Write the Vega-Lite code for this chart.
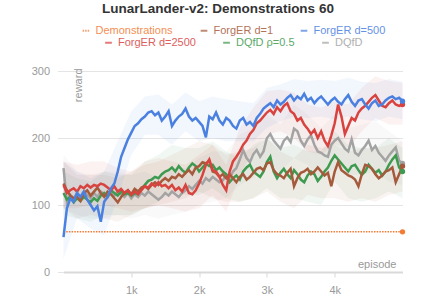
{
  "$schema": "https://vega.github.io/schema/vega-lite/v6.json",
  "width": 339,
  "height": 201,
  "autosize": "none",
  "padding": {"left": 63.5, "top": 71, "right": 33.5, "bottom": 36},
  "title": {"text": "LunarLander-v2: Demonstrations 60", "fontSize": 13.5, "fontWeight": "bold", "color": "#333333", "anchor": "middle", "offset": 10, "dx": -15},
  "config": {
    "font": "Liberation Sans",
    "view": {"stroke": null},
    "legend": {"layout": {"top": {"anchor": "middle", "direction": "vertical", "center": true, "margin": 1}}},
    "axisY": {"domain": false, "grid": true, "gridColor": "#e4e4e4", "tickColor": "#e4e4e4", "tickSize": 6, "labelColor": "#9a9a9a", "labelFontSize": 11, "labelPadding": 8, "titleAngle": 270, "titleX": 17.5, "titleY": -3, "titleAlign": "right", "titleBaseline": "alphabetic", "titleFontWeight": "normal", "titleFontSize": 11, "titleColor": "#9a9a9a"},
    "axisX": {"domain": true, "domainColor": "#d9d9d9", "domainWidth": 2, "grid": false, "tickColor": "#d9d9d9", "tickSize": 5, "labelColor": "#9a9a9a", "labelFontSize": 11, "labelPadding": 7, "titleX": 332.5, "titleY": -5, "titleAlign": "right", "titleBaseline": "alphabetic", "titleFontWeight": "normal", "titleFontSize": 11, "titleColor": "#9a9a9a"}
  },
  "datasets": {
    "runs": [
      {"x":0,"b":52,"r":130,"k":155,"g":118,"n":132},
      {"x":50,"b":95,"r":118,"k":105,"g":108,"n":122},
      {"x":100,"b":110,"r":122,"k":115,"g":112,"n":114},
      {"x":150,"b":105,"r":125,"k":110,"g":104,"n":110},
      {"x":200,"b":118,"r":120,"k":118,"g":110,"n":112},
      {"x":250,"b":112,"r":128,"k":112,"g":106,"n":106},
      {"x":300,"b":120,"r":125,"k":120,"g":112,"n":118},
      {"x":350,"b":108,"r":130,"k":115,"g":108,"n":122},
      {"x":400,"b":100,"r":126,"k":110,"g":104,"n":114},
      {"x":450,"b":92,"r":130,"k":118,"g":110,"n":120},
      {"x":500,"b":98,"r":128,"k":112,"g":106,"n":126},
      {"x":550,"b":75,"r":132,"k":120,"g":114,"n":118},
      {"x":600,"b":105,"r":130,"k":116,"g":118,"n":112},
      {"x":650,"b":112,"r":126,"k":112,"g":112,"n":120},
      {"x":700,"b":125,"r":122,"k":118,"g":122,"n":116},
      {"x":750,"b":132,"r":128,"k":114,"g":118,"n":110},
      {"x":800,"b":150,"r":120,"k":120,"g":114,"n":104},
      {"x":850,"b":172,"r":124,"k":116,"g":120,"n":112},
      {"x":900,"b":185,"r":118,"k":112,"g":116,"n":118},
      {"x":950,"b":198,"r":122,"k":118,"g":118,"n":122},
      {"x":1000,"b":208,"r":115,"k":110,"g":114,"n":116},
      {"x":1050,"b":218,"r":120,"k":116,"g":118,"n":124},
      {"x":1100,"b":222,"r":116,"k":112,"g":116,"n":120},
      {"x":1150,"b":228,"r":122,"k":118,"g":124,"n":126},
      {"x":1200,"b":232,"r":128,"k":114,"g":130,"n":128},
      {"x":1250,"b":238,"r":126,"k":120,"g":136,"n":124},
      {"x":1300,"b":240,"r":132,"k":116,"g":138,"n":130},
      {"x":1350,"b":234,"r":128,"k":112,"g":142,"n":134},
      {"x":1400,"b":238,"r":134,"k":108,"g":140,"n":130},
      {"x":1450,"b":226,"r":128,"k":112,"g":146,"n":136},
      {"x":1500,"b":232,"r":130,"k":118,"g":150,"n":140},
      {"x":1550,"b":240,"r":125,"k":114,"g":152,"n":136},
      {"x":1600,"b":218,"r":130,"k":120,"g":156,"n":142},
      {"x":1650,"b":226,"r":122,"k":116,"g":150,"n":140},
      {"x":1700,"b":232,"r":126,"k":112,"g":158,"n":146},
      {"x":1750,"b":236,"r":120,"k":118,"g":152,"n":142},
      {"x":1800,"b":244,"r":130,"k":122,"g":148,"n":148},
      {"x":1850,"b":232,"r":118,"k":128,"g":156,"n":152},
      {"x":1900,"b":226,"r":116,"k":124,"g":162,"n":146},
      {"x":1950,"b":230,"r":122,"k":130,"g":158,"n":156},
      {"x":2000,"b":224,"r":132,"k":136,"g":150,"n":158},
      {"x":2050,"b":218,"r":145,"k":132,"g":156,"n":164},
      {"x":2100,"b":201,"r":160,"k":140,"g":162,"n":162},
      {"x":2150,"b":232,"r":168,"k":136,"g":158,"n":166},
      {"x":2200,"b":228,"r":152,"k":142,"g":160,"n":150},
      {"x":2250,"b":238,"r":150,"k":138,"g":152,"n":148},
      {"x":2300,"b":226,"r":142,"k":134,"g":156,"n":142},
      {"x":2350,"b":220,"r":130,"k":137,"g":150,"n":146},
      {"x":2400,"b":230,"r":122,"k":145,"g":146,"n":140},
      {"x":2450,"b":226,"r":150,"k":140,"g":134,"n":146},
      {"x":2500,"b":218,"r":165,"k":150,"g":140,"n":140},
      {"x":2550,"b":214,"r":172,"k":155,"g":144,"n":134},
      {"x":2600,"b":226,"r":180,"k":168,"g":138,"n":142},
      {"x":2650,"b":230,"r":190,"k":182,"g":150,"n":146},
      {"x":2700,"b":220,"r":196,"k":170,"g":156,"n":138},
      {"x":2750,"b":224,"r":206,"k":164,"g":160,"n":142},
      {"x":2800,"b":218,"r":212,"k":176,"g":150,"n":148},
      {"x":2850,"b":230,"r":222,"k":182,"g":146,"n":154},
      {"x":2900,"b":236,"r":226,"k":172,"g":142,"n":156},
      {"x":2950,"b":244,"r":232,"k":180,"g":150,"n":152},
      {"x":3000,"b":248,"r":238,"k":200,"g":164,"n":162},
      {"x":3050,"b":252,"r":242,"k":206,"g":172,"n":164},
      {"x":3100,"b":246,"r":236,"k":196,"g":150,"n":152},
      {"x":3150,"b":256,"r":246,"k":190,"g":140,"n":146},
      {"x":3200,"b":250,"r":240,"k":184,"g":148,"n":144},
      {"x":3250,"b":254,"r":248,"k":196,"g":154,"n":140},
      {"x":3300,"b":260,"r":252,"k":201,"g":146,"n":148},
      {"x":3350,"b":264,"r":240,"k":194,"g":140,"n":154},
      {"x":3400,"b":256,"r":236,"k":214,"g":152,"n":128},
      {"x":3450,"b":262,"r":226,"k":210,"g":146,"n":140},
      {"x":3500,"b":258,"r":230,"k":196,"g":138,"n":148},
      {"x":3550,"b":266,"r":220,"k":188,"g":134,"n":150},
      {"x":3600,"b":256,"r":214,"k":198,"g":144,"n":154},
      {"x":3650,"b":260,"r":206,"k":204,"g":150,"n":146},
      {"x":3700,"b":252,"r":212,"k":190,"g":146,"n":150},
      {"x":3750,"b":258,"r":200,"k":180,"g":136,"n":156},
      {"x":3800,"b":262,"r":210,"k":178,"g":142,"n":150},
      {"x":3850,"b":256,"r":196,"k":174,"g":150,"n":144},
      {"x":3900,"b":250,"r":188,"k":172,"g":156,"n":148},
      {"x":3950,"b":256,"r":204,"k":190,"g":166,"n":128},
      {"x":4000,"b":260,"r":222,"k":196,"g":174,"n":150},
      {"x":4050,"b":254,"r":250,"k":200,"g":168,"n":164},
      {"x":4100,"b":250,"r":232,"k":192,"g":162,"n":152},
      {"x":4150,"b":258,"r":206,"k":184,"g":156,"n":148},
      {"x":4200,"b":264,"r":218,"k":180,"g":150,"n":144},
      {"x":4250,"b":254,"r":230,"k":198,"g":158,"n":142},
      {"x":4300,"b":248,"r":226,"k":178,"g":160,"n":138},
      {"x":4350,"b":256,"r":238,"k":174,"g":152,"n":128},
      {"x":4400,"b":258,"r":244,"k":182,"g":145,"n":146},
      {"x":4450,"b":250,"r":248,"k":188,"g":150,"n":160},
      {"x":4500,"b":244,"r":254,"k":196,"g":160,"n":158},
      {"x":4550,"b":252,"r":260,"k":182,"g":154,"n":154},
      {"x":4600,"b":256,"r":264,"k":188,"g":148,"n":146},
      {"x":4650,"b":248,"r":256,"k":178,"g":152,"n":140},
      {"x":4700,"b":250,"r":248,"k":172,"g":144,"n":144},
      {"x":4750,"b":256,"r":246,"k":166,"g":150,"n":150},
      {"x":4800,"b":260,"r":252,"k":174,"g":160,"n":152},
      {"x":4850,"b":262,"r":256,"k":180,"g":168,"n":156},
      {"x":4900,"b":258,"r":250,"k":186,"g":174,"n":134},
      {"x":4950,"b":260,"r":248,"k":166,"g":156,"n":146},
      {"x":5000,"b":255,"r":250,"k":162,"g":150,"n":158}
    ],
    "bands": [
      {"x":0,"b0":20,"b1":165,"r0":95,"r1":165,"k0":95,"k1":175,"g0":85,"g1":150,"n0":95,"n1":165},
      {"x":200,"b0":80,"b1":150,"r0":95,"r1":160,"k0":85,"k1":150,"g0":80,"g1":140,"n0":80,"n1":145},
      {"x":400,"b0":65,"b1":140,"r0":100,"r1":165,"k0":80,"k1":145,"g0":75,"g1":135,"n0":85,"n1":145},
      {"x":600,"b0":55,"b1":150,"r0":100,"r1":165,"k0":80,"k1":150,"g0":85,"g1":150,"n0":80,"n1":145},
      {"x":800,"b0":110,"b1":195,"r0":95,"r1":155,"k0":85,"k1":150,"g0":85,"g1":145,"n0":75,"n1":140},
      {"x":1000,"b0":175,"b1":240,"r0":90,"r1":150,"k0":80,"k1":145,"g0":85,"g1":145,"n0":85,"n1":150},
      {"x":1200,"b0":205,"b1":262,"r0":95,"r1":165,"k0":85,"k1":150,"g0":95,"g1":165,"n0":95,"n1":160},
      {"x":1400,"b0":205,"b1":265,"r0":100,"r1":170,"k0":80,"k1":140,"g0":105,"g1":175,"n0":100,"n1":165},
      {"x":1600,"b0":190,"b1":250,"r0":95,"r1":165,"k0":85,"k1":155,"g0":120,"g1":190,"n0":105,"n1":175},
      {"x":1800,"b0":210,"b1":268,"r0":90,"r1":160,"k0":90,"k1":155,"g0":115,"g1":185,"n0":110,"n1":185},
      {"x":2000,"b0":195,"b1":255,"r0":95,"r1":175,"k0":100,"k1":170,"g0":115,"g1":185,"n0":120,"n1":195},
      {"x":2200,"b0":200,"b1":262,"r0":115,"r1":190,"k0":105,"k1":180,"g0":125,"g1":195,"n0":110,"n1":190},
      {"x":2400,"b0":195,"b1":258,"r0":90,"r1":160,"k0":110,"k1":180,"g0":110,"g1":180,"n0":105,"n1":175},
      {"x":2600,"b0":195,"b1":255,"r0":145,"r1":215,"k0":130,"k1":205,"g0":105,"g1":170,"n0":105,"n1":180},
      {"x":2800,"b0":195,"b1":252,"r0":180,"r1":245,"k0":140,"k1":215,"g0":110,"g1":190,"n0":110,"n1":185},
      {"x":3000,"b0":215,"b1":275,"r0":205,"r1":270,"k0":160,"k1":235,"g0":125,"g1":200,"n0":120,"n1":200},
      {"x":3200,"b0":225,"b1":280,"r0":210,"r1":272,"k0":150,"k1":220,"g0":110,"g1":185,"n0":105,"n1":180},
      {"x":3400,"b0":232,"b1":288,"r0":200,"r1":268,"k0":170,"k1":250,"g0":110,"g1":190,"n0":95,"n1":170},
      {"x":3600,"b0":230,"b1":285,"r0":180,"r1":250,"k0":160,"k1":235,"g0":105,"g1":180,"n0":115,"n1":190},
      {"x":3800,"b0":232,"b1":287,"r0":175,"r1":245,"k0":140,"k1":215,"g0":100,"g1":180,"n0":110,"n1":185},
      {"x":4000,"b0":228,"b1":285,"r0":190,"r1":255,"k0":155,"k1":235,"g0":135,"g1":210,"n0":110,"n1":190},
      {"x":4200,"b0":232,"b1":290,"r0":185,"r1":250,"k0":145,"k1":215,"g0":110,"g1":190,"n0":105,"n1":180},
      {"x":4400,"b0":228,"b1":284,"r0":210,"r1":275,"k0":145,"k1":220,"g0":105,"g1":185,"n0":110,"n1":185},
      {"x":4600,"b0":225,"b1":282,"r0":230,"r1":292,"k0":150,"k1":225,"g0":110,"g1":185,"n0":105,"n1":185},
      {"x":4800,"b0":232,"b1":288,"r0":220,"r1":285,"k0":135,"k1":210,"g0":120,"g1":200,"n0":115,"n1":190},
      {"x":5000,"b0":228,"b1":284,"r0":220,"r1":282,"k0":130,"k1":195,"g0":110,"g1":185,"n0":120,"n1":195}
    ],
    "demo": [
      {"x":0,"v":60},
      {"x":5000,"v":60}
    ],
    "ends1": [
      {"x":5000,"s":"ForgER d=1","v":158},
      {"x":5000,"s":"ForgER d=500","v":255},
      {"x":5000,"s":"Demonstrations","v":60}
    ],
    "ends2": [
      {"x":5000,"s":"DQfD","v":162},
      {"x":5000,"s":"DQfD ρ=0.5","v":150},
      {"x":5000,"s":"ForgER d=2500","v":250}
    ]
  },
  "layer": [
    {"data": {"name": "bands"}, "mark": {"type": "area", "opacity": 0.07},
     "encoding": {"x": {"field": "x", "type": "quantitative", "title": "episode", "scale": {"domain": [0, 5000]}, "axis": {"values": [1000, 2000, 3000, 4000], "format": "~s"}},
                  "y": {"field": "k0", "type": "quantitative", "title": "reward", "scale": {"domain": [0, 300]}, "axis": {"values": [0, 50, 100, 150, 200, 250, 300]}}, "y2": {"field": "k1"},
                  "fill": {"datum": "DQfD", "legend": null, "scale": {"domain": ["DQfD", "DQfD ρ=0.5", "ForgER d=2500"], "range": ["#a3a3a3", "#3d9a4e", "#d8433f"]}}}},
    {"data": {"name": "bands"}, "mark": {"type": "area", "opacity": 0.07},
     "encoding": {"x": {"field": "x", "type": "quantitative", "title": "episode"}, "y": {"field": "g0", "type": "quantitative", "title": "reward"}, "y2": {"field": "g1"}, "fill": {"datum": "DQfD ρ=0.5", "legend": null}}},
    {"data": {"name": "bands"}, "mark": {"type": "area", "opacity": 0.07},
     "encoding": {"x": {"field": "x", "type": "quantitative", "title": "episode"}, "y": {"field": "n0", "type": "quantitative", "title": "reward"}, "y2": {"field": "n1"},
                  "color": {"datum": "ForgER d=1", "title": null, "scale": {"domain": ["Demonstrations", "ForgER d=1", "ForgER d=500"], "range": ["#f27b35", "#a65a3c", "#4a80df"]},
                            "legend": {"orient": "top", "direction": "horizontal", "title": null, "symbolType": "stroke", "symbolSize": 45, "symbolStrokeWidth": 2, "symbolOpacity": 0.7, "labelFontSize": 11, "labelOffset": 4, "columnPadding": 23, "offset": 23,
                                       "encode": {"labels": {"update": {"fill": {"scale": "color", "field": "value"}, "opacity": {"value": 0.85}}},
                                                  "symbols": {"update": {"stroke": {"scale": "color", "field": "value"}, "strokeDash": {"signal": "datum.value === 'Demonstrations' ? [1.5, 1] : [1, 0]"}}}}}}}},
    {"data": {"name": "bands"}, "mark": {"type": "area", "opacity": 0.07},
     "encoding": {"x": {"field": "x", "type": "quantitative", "title": "episode"}, "y": {"field": "r0", "type": "quantitative", "title": "reward"}, "y2": {"field": "r1"}, "fill": {"datum": "ForgER d=2500", "legend": null}}},
    {"data": {"name": "bands"}, "mark": {"type": "area", "opacity": 0.07},
     "encoding": {"x": {"field": "x", "type": "quantitative", "title": "episode"}, "y": {"field": "b0", "type": "quantitative", "title": "reward"}, "y2": {"field": "b1"}, "color": {"datum": "ForgER d=500"}}},
    {"data": {"name": "demo"}, "mark": {"type": "line", "strokeWidth": 1.6, "strokeDash": [1.5, 1.2]},
     "encoding": {"x": {"field": "x", "type": "quantitative", "title": "episode"}, "y": {"field": "v", "type": "quantitative", "title": "reward"}, "color": {"datum": "Demonstrations"}}},
    {"data": {"name": "runs"}, "mark": {"type": "line", "strokeWidth": 2.5},
     "encoding": {"x": {"field": "x", "type": "quantitative", "title": "episode"}, "y": {"field": "k", "type": "quantitative", "title": "reward"},
                  "stroke": {"datum": "DQfD", "title": null, "scale": {"domain": ["ForgER d=2500", "DQfD ρ=0.5", "DQfD"], "range": ["#d8433f", "#3d9a4e", "#a3a3a3"]},
                             "legend": {"orient": "top", "direction": "horizontal", "title": null, "symbolType": "stroke", "symbolSize": 45, "symbolStrokeWidth": 2, "symbolOpacity": 0.7, "labelFontSize": 11, "labelOffset": 4, "columnPadding": 23, "offset": 23,
                                        "encode": {"labels": {"update": {"fill": {"scale": "stroke", "field": "value"}, "opacity": {"value": 0.85}}},
                                                   "symbols": {"update": {"stroke": {"scale": "stroke", "field": "value"}}}}}}}},
    {"data": {"name": "runs"}, "mark": {"type": "line", "strokeWidth": 2.5},
     "encoding": {"x": {"field": "x", "type": "quantitative", "title": "episode"}, "y": {"field": "g", "type": "quantitative", "title": "reward"}, "stroke": {"datum": "DQfD ρ=0.5"}}},
    {"data": {"name": "runs"}, "mark": {"type": "line", "strokeWidth": 2.5},
     "encoding": {"x": {"field": "x", "type": "quantitative", "title": "episode"}, "y": {"field": "n", "type": "quantitative", "title": "reward"}, "color": {"datum": "ForgER d=1"}}},
    {"data": {"name": "runs"}, "mark": {"type": "line", "strokeWidth": 2.5},
     "encoding": {"x": {"field": "x", "type": "quantitative", "title": "episode"}, "y": {"field": "r", "type": "quantitative", "title": "reward"}, "stroke": {"datum": "ForgER d=2500"}}},
    {"data": {"name": "runs"}, "mark": {"type": "line", "strokeWidth": 2.5},
     "encoding": {"x": {"field": "x", "type": "quantitative", "title": "episode"}, "y": {"field": "b", "type": "quantitative", "title": "reward"}, "color": {"datum": "ForgER d=500"}}},
    {"data": {"name": "ends2"}, "mark": {"type": "point", "filled": true, "size": 28, "opacity": 1},
     "encoding": {"x": {"field": "x", "type": "quantitative", "title": "episode"}, "y": {"field": "v", "type": "quantitative", "title": "reward"}, "fill": {"field": "s", "type": "nominal", "title": null, "legend": null}}},
    {"data": {"name": "ends1"}, "mark": {"type": "point", "filled": true, "size": 28, "opacity": 1},
     "encoding": {"x": {"field": "x", "type": "quantitative", "title": "episode"}, "y": {"field": "v", "type": "quantitative", "title": "reward"}, "color": {"field": "s", "type": "nominal", "title": null, "legend": null}}}
  ]
}
